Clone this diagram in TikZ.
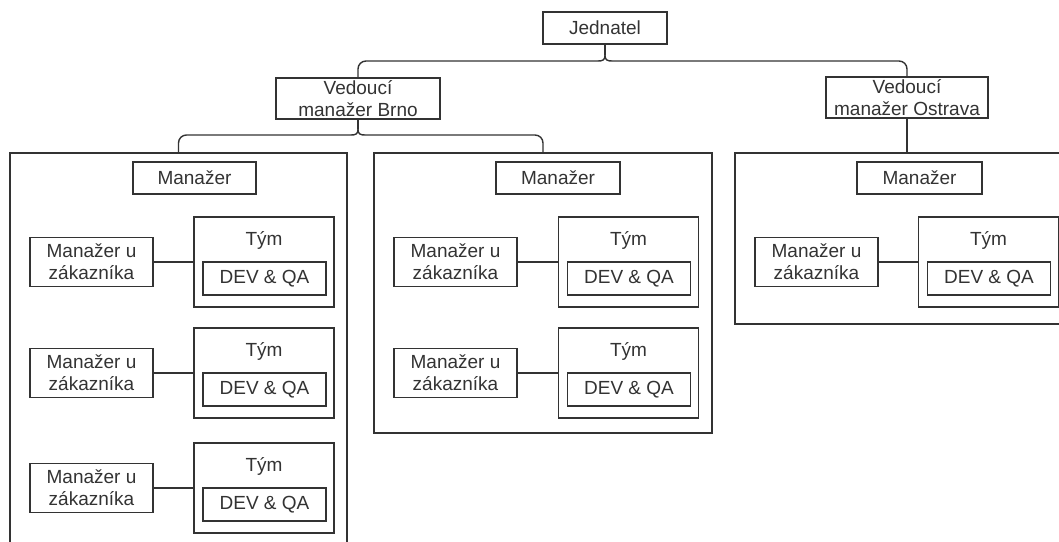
\documentclass[tikz,border=0pt]{standalone}
\usepackage{fontspec}
\setmainfont{Liberation Sans}
\definecolor{ink}{HTML}{333333}
\begin{document}
\begin{tikzpicture}[x=1pt,y=-1pt,
  line width=1.4pt,
  every node/.style={font=\fontsize{19}{21.7}\selectfont, text=ink},
  rbox/.style 2 args={draw=ink, fill=white, inner sep=0pt, align=center,
    minimum width=#1pt, minimum height=#2pt},
  link/.style={draw=ink},
  lbl/.style={inner sep=0pt}]
  \fill[white] (0,0) rectangle (1059,541);
  \useasboundingbox (0,0) rectangle (1059,541);
  \clip (0,0) rectangle (1059,541);

  % top of the hierarchy
  \node[rbox={124}{32}] (jed) at (605,28) {Jednatel};
  \node[rbox={164}{41}] (vb) at (358,98.5) {Vedoucí\\manažer Brno};
  \node[rbox={162}{41}] (vo) at (907,97.5) {Vedoucí\\manažer Ostrava};

  % group frames
  \node[rbox={337}{447}] (g1) at (178.5,376.5) {};
  \node[rbox={338}{280}] (g2) at (543,293) {};
  \node[rbox={344}{171}] (g3) at (907,238.5) {};

  % group managers
  \node[rbox={123}{32}] (m1) at (194.5,178) {Manažer};
  \node[rbox={124}{32}] (m2) at (558,178) {Manažer};
  \node[rbox={125}{32}] (m3) at (919.5,178) {Manažer};

  % customer manager + team rows
  \foreach \mx/\tx/\cy/\id in {91.5/264/262/a, 91.5/264/373/b, 91.5/264/488/c,
      455.5/628.5/262/d, 455.5/628.5/373/e, 816.5/988.5/262/f} {
    \node[rbox={123}{49}] (z\id) at (\mx,\cy) {Manažer u\\zákazníka};
    \node[rbox={140}{90}] (t\id) at (\tx,\cy) {};
    \node[lbl] (l\id) at (\tx,\cy-22) {Tým};
    \node[rbox={123}{33}] (d\id) at (\tx+0.5,\cy+16.5) {DEV \& QA};
    \draw[link] (z\id) -- (t\id);
  }

  % brace below Jednatel
  \coordinate (k1) at (605,55);
  \coordinate (k1l) at (598,61);
  \coordinate (k1r) at (612,61);
  \draw[link] (jed) -- (k1);
  \draw[link, rounded corners=8pt] (k1l) -| (vb.north);
  \draw[link] (k1l) .. controls (603,61) and (605,60) .. (k1)
              .. controls (605,60) and (607,61) .. (k1r);
  \draw[link, rounded corners=8pt] (k1r) -| (vo.north);

  % brace below the Brno lead
  \coordinate (k2) at (358,129);
  \coordinate (k2l) at (351,135);
  \coordinate (k2r) at (365,135);
  \draw[link] (vb) -- (k2);
  \draw[link, rounded corners=8pt] (k2l) -| (g1.north);
  \draw[link] (k2l) .. controls (356,135) and (358,134) .. (k2)
              .. controls (358,134) and (360,135) .. (k2r);
  \draw[link, rounded corners=8pt] (k2r) -| (g2.north);

  % Ostrava lead to its group
  \draw[link] (vo) -- (g3);
\end{tikzpicture}
\end{document}
